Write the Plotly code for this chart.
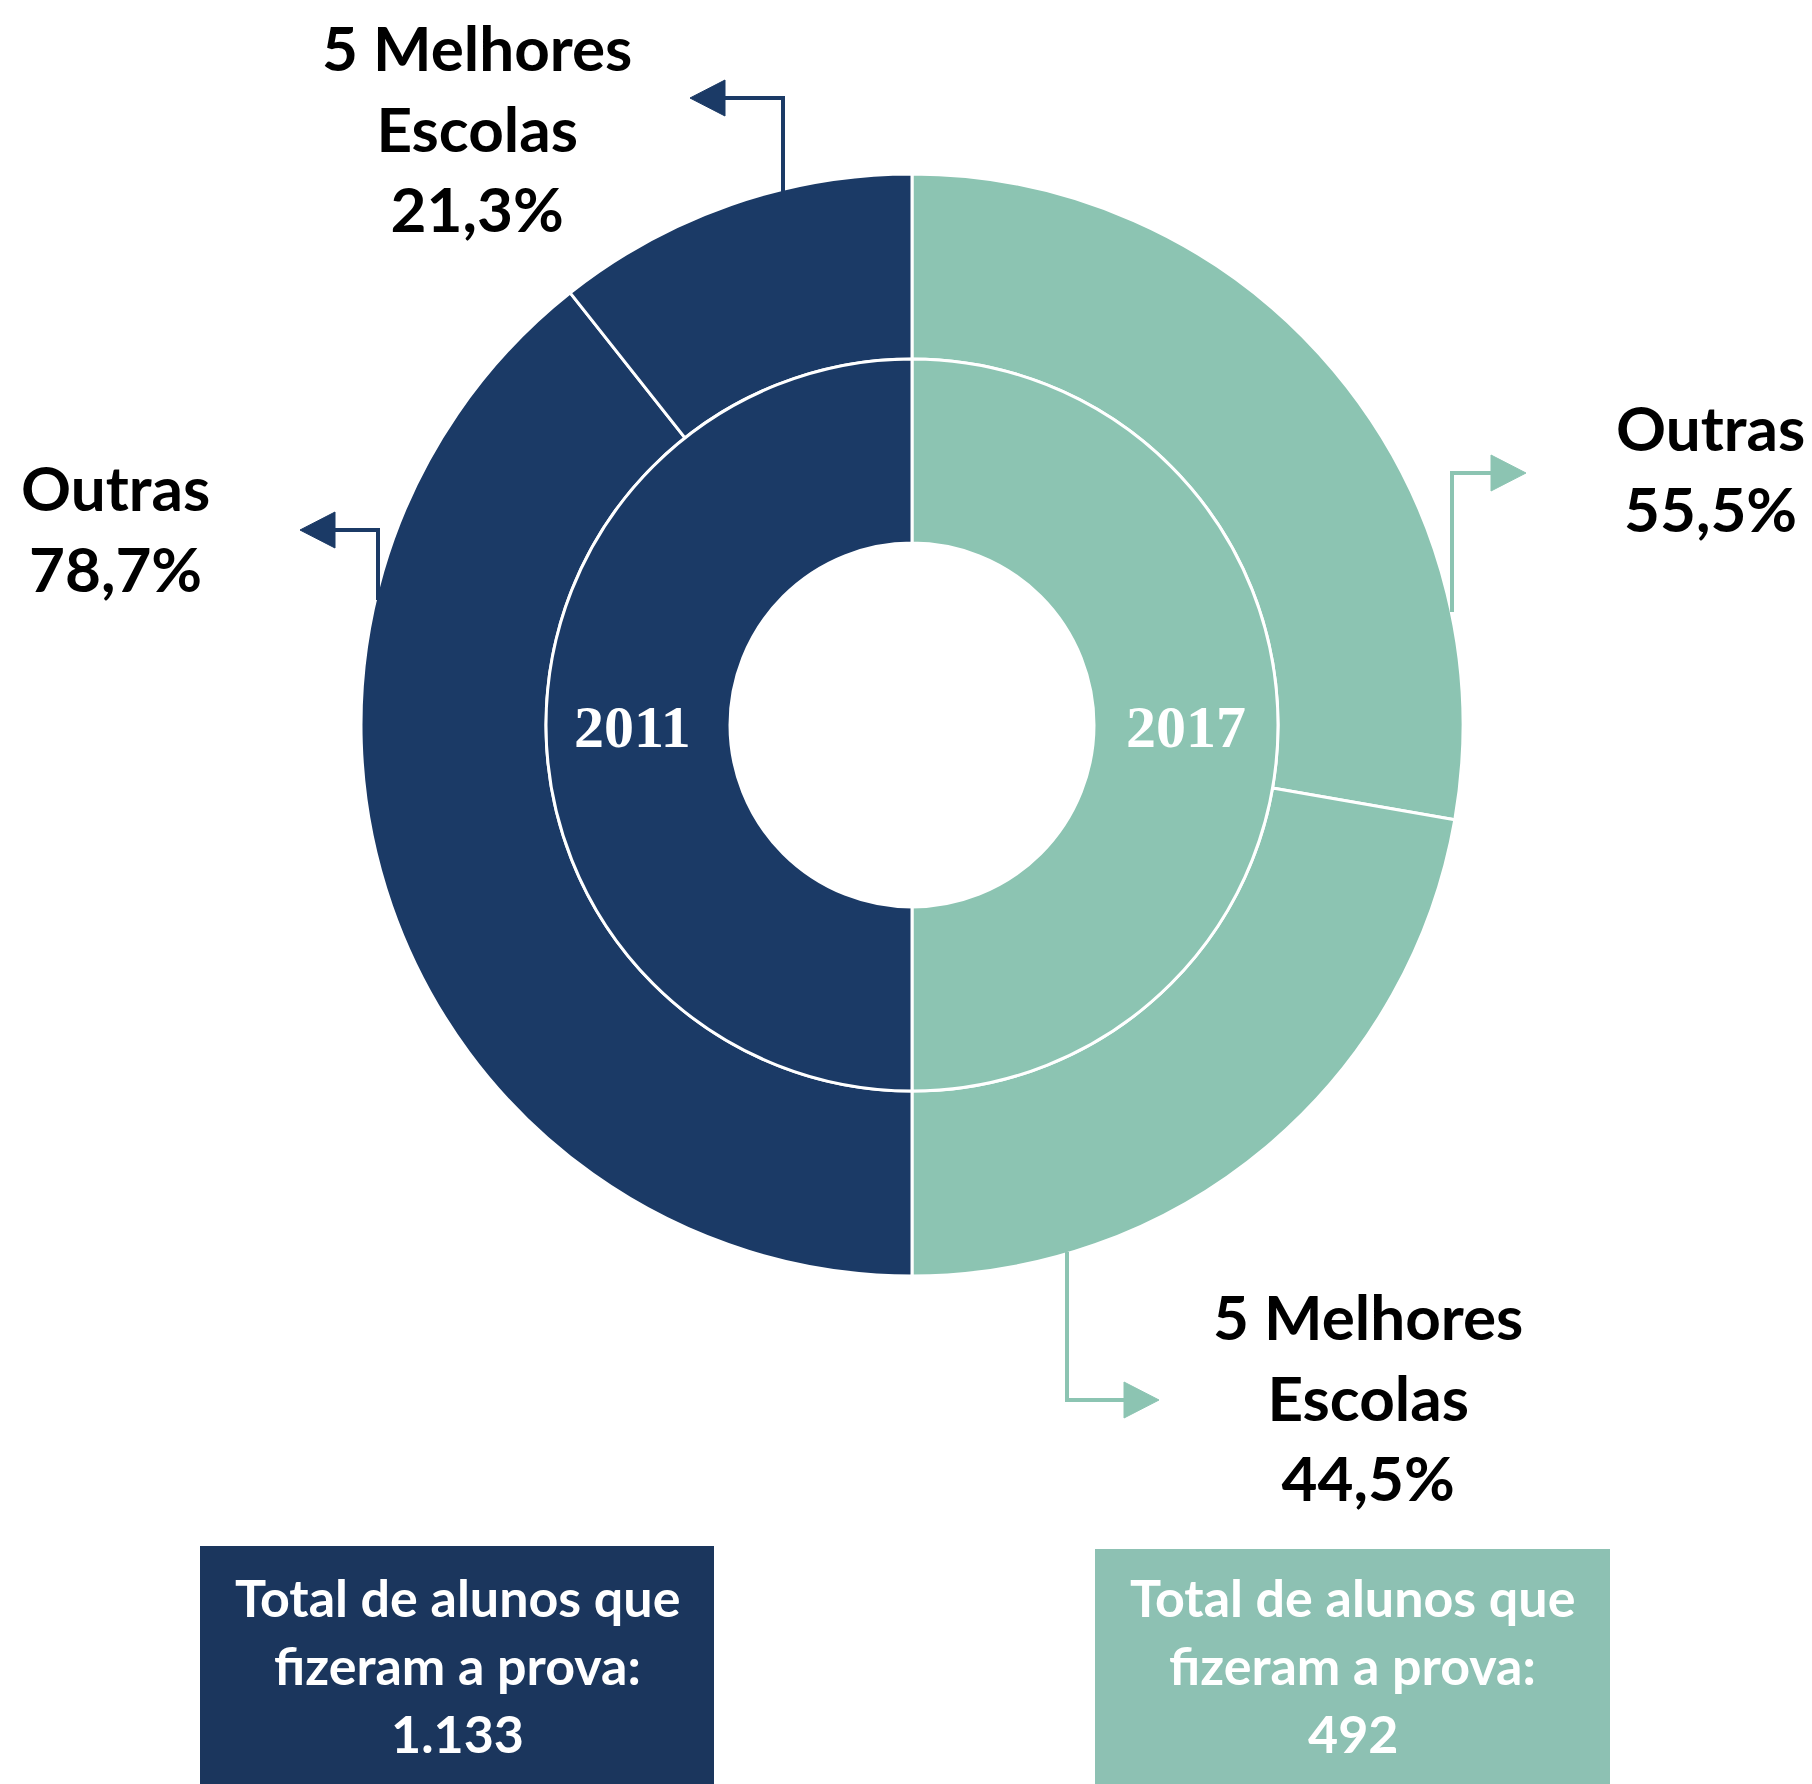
import plotly.graph_objects as go

# Canvas
W, H = 1812, 1784

# Data
years = ["2011", "2017"]
categories = ["5 Melhores Escolas", "Outras"]
share_2011 = [21.3, 78.7]
share_2017 = [44.5, 55.5]
total_students = [1133, 492]

NAVY = "#1B3A66"
NAVY_BOX = "#1B365D"
TEAL = "#8CC4B2"
TEAL_BOX = "#8DC1B3"
year_colors = {"2011": NAVY, "2017": TEAL}

FONT = "Lato"
LABEL_SIZE = 62
BOX_SIZE = 52

# Donut geometry (pixels)
CX, CY = 912, 725
R_OUT, R_MID, R_HOLE = 551, 366, 182


def px(x):
    return x / W


def py(y):
    return 1 - y / H


def pct(v):
    return f"{v:.1f}".replace(".", ",") + "%"


def thousands(n):
    return f"{n:,}".replace(",", ".")


fig = go.Figure()

# Outer ring, drawn clockwise from 12 o'clock:
# 2017 fills the right half (Outras, then 5 Melhores), 2011 the left half (Outras, then 5 Melhores)
outer_labels = [f"2017 - {categories[1]}", f"2017 - {categories[0]}",
                f"2011 - {categories[1]}", f"2011 - {categories[0]}"]
outer_values = [share_2017[1], share_2017[0], share_2011[1], share_2011[0]]
outer_colors = [TEAL, TEAL, NAVY, NAVY]

fig.add_trace(go.Pie(
    labels=outer_labels,
    values=outer_values,
    sort=False,
    direction="clockwise",
    rotation=0,
    hole=R_MID / R_OUT,
    marker=dict(colors=outer_colors, line=dict(color="white", width=3)),
    textinfo="none",
    hoverinfo="label+value",
    domain=dict(x=[px(CX - R_OUT), px(CX + R_OUT)], y=[py(CY + R_OUT), py(CY - R_OUT)]),
))

# Inner ring: one half per year
inner_years = ["2017", "2011"]
fig.add_trace(go.Pie(
    labels=inner_years,
    values=[sum(share_2017), sum(share_2011)],
    sort=False,
    direction="clockwise",
    rotation=0,
    hole=R_HOLE / R_MID,
    marker=dict(colors=[year_colors[y] for y in inner_years], line=dict(color="white", width=3)),
    textinfo="none",
    hoverinfo="label",
    domain=dict(x=[px(CX - R_MID), px(CX + R_MID)], y=[py(CY + R_MID), py(CY - R_MID)]),
))

annotations = []

# Year labels in the inner ring
r_year = (R_HOLE + R_MID) / 2
for year, xpos in zip(years, [CX - r_year - 6, CX + r_year]):
    annotations.append(dict(
        x=px(xpos), y=py(CY + 2), xref="paper", yref="paper",
        text=f"<b>{year}</b>", showarrow=False,
        xanchor="center", yanchor="middle",
        font=dict(family="Liberation Serif", size=60, color="white"),
    ))

# Category labels
label_specs = [
    ("5 Melhores<br>Escolas", share_2011[0], 477, 128),
    (categories[1], share_2011[1], 116, 528),
    (categories[1], share_2017[1], 1710, 468),
    ("5 Melhores<br>Escolas", share_2017[0], 1368, 1396),
]
for name, val, x, y in label_specs:
    annotations.append(dict(
        x=px(x), y=py(y), xref="paper", yref="paper",
        text=f"<b>{name}<br>{pct(val)}</b>", showarrow=False,
        xanchor="center", yanchor="middle", align="center",
        font=dict(family=FONT, size=LABEL_SIZE, color="black"),
    ))

# Total boxes
shapes = []
box_specs = [(200, 714, 1546, NAVY_BOX, total_students[0]), (1095, 1610, 1549, TEAL_BOX, total_students[1])]
for x0, x1, y0, col, total in box_specs:
    shapes.append(dict(
        type="rect", xref="paper", yref="paper",
        x0=px(x0), x1=px(x1), y0=py(H), y1=py(y0),
        fillcolor=col, line=dict(width=0), layer="below",
    ))
    xc = (x0 + x1) / 2
    for line_txt, yline in zip(["Total de alunos que", "fizeram a prova:", thousands(total)], [1597, 1665, 1733]):
        annotations.append(dict(
            x=px(xc), y=py(yline), xref="paper", yref="paper",
            text=f"<b>{line_txt}</b>", showarrow=False,
            xanchor="center", yanchor="middle",
            font=dict(family=FONT, size=BOX_SIZE, color="white"),
        ))

# Elbow arrows from the ring to the labels
arrow_specs = [
    (NAVY, [(783, 192), (783, 98), (724, 98)], (690, 98), "left"),
    (NAVY, [(378, 600), (378, 530), (335, 530)], (300, 530), "left"),
    (TEAL, [(1452, 612), (1452, 473), (1492, 473)], (1526, 473), "right"),
    (TEAL, [(1067, 1252), (1067, 1400), (1125, 1400)], (1159, 1400), "right"),
]
HEAD_LEN, HEAD_HALF = 35, 18
for col, pts, tip, side in arrow_specs:
    path = "M " + " L ".join(f"{px(x)},{py(y)}" for x, y in pts)
    shapes.append(dict(type="path", xref="paper", yref="paper", path=path,
                       line=dict(color=col, width=4)))
    tx, ty = tip
    bx = tx + HEAD_LEN if side == "left" else tx - HEAD_LEN
    tri = (f"M {px(tx)},{py(ty)} L {px(bx)},{py(ty - HEAD_HALF)} "
           f"L {px(bx)},{py(ty + HEAD_HALF)} Z")
    shapes.append(dict(type="path", xref="paper", yref="paper", path=tri,
                       fillcolor=col, line=dict(color=col, width=1)))

fig.update_layout(
    width=W, height=H,
    margin=dict(l=0, r=0, t=0, b=0),
    paper_bgcolor="white", plot_bgcolor="white",
    showlegend=False,
    annotations=annotations,
    shapes=shapes,
)

fig.write_html("out.html")
